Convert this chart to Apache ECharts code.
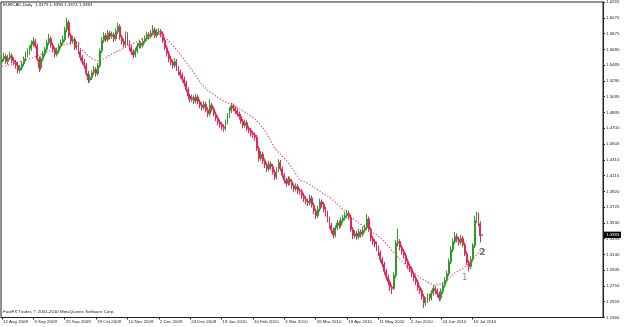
<!DOCTYPE html>
<html><head><meta charset="utf-8">
<script src="https://cdn.jsdelivr.net/npm/echarts@6/dist/echarts.min.js"></script>
<style>html,body{margin:0;padding:0;background:#fff}#c{width:625px;height:327px}</style>
</head><body><div id="c"></div>
<script>
// ---- text ----
const symbolTitle = 'EURCAD,Daily  1.3375 1.3390 1.3374 1.3383';
const footerText = 'FastFX Trader, \u00a9 2001-2010 MetaQuotes Software Corp.';
// ---- categories (trading days) ----
const startDate = [2009, 7, 12];
const holidays = ['2009-12-25', '2010-01-01'];
const slotCount = 307;
const dateLabelEvery = 16;
const lastLabelIndex = 240;
const monthNames = ['Jan','Feb','Mar','Apr','May','Jun','Jul','Aug','Sep','Oct','Nov','Dec'];
// ---- price axis labels ----
const yMin = 1.2360, yMax = 1.6265, yStep = 0.019525;
const yTickLabels = ['1.2360','1.2555','1.2750','1.2945','1.3140','1.3335','1.3530','1.3725','1.3920','1.4115','1.4310','1.4505','1.4700','1.4895','1.5095','1.5290','1.5485','1.5680','1.5875','1.6070','1.6265'];
// ---- OHLC in units of 0.0001 ----
const opens = [
15520,15560,15590,15530,15570,15600,15540,15520,15480,15420,
15450,15500,15560,15610,15640,15690,15740,15780,15720,15560,
15450,15560,15620,15680,15760,15810,15730,15680,15620,15660,
15720,15760,15800,15920,16010,15850,15780,15800,15700,15740,
15650,15580,15520,15480,15380,15300,15330,15390,15430,15380,
15480,15660,15790,15850,15800,15880,15840,15860,15810,15900,
15960,15830,15780,15740,15860,15760,15700,15650,15610,15660,
15720,15750,15730,15780,15810,15860,15840,15880,15920,15850,
15890,15900,15870,15790,15700,15630,15560,15520,15480,15530,
15440,15400,15360,15310,15260,15180,15100,15060,15080,15040,
15090,15030,14990,14960,15000,14930,14880,14990,14940,14880,
14830,14780,14750,14720,14700,14780,14860,14920,14980,14950,
14920,14880,14850,14790,14740,14770,14700,14680,14640,14620,
14590,14450,14330,14380,14300,14250,14200,14260,14230,14160,
14100,14190,14280,14200,14120,14060,14020,14070,14040,13990,
13950,13980,13930,13920,13870,13830,13800,13780,13840,13750,
13680,13620,13700,13790,13760,13700,13650,13580,13500,13440,
13380,13470,13530,13500,13560,13590,13620,13650,13600,13450,
13370,13400,13360,13420,13390,13440,13470,13580,13450,13340,
13300,13270,13220,13160,13080,13020,12930,12860,12800,12740,
12720,12880,13280,13300,13230,13180,13130,13060,13000,12960,
12900,12850,12800,12730,12690,12620,12540,12570,12620,12600,
12660,12720,12690,12650,12600,12680,12760,12820,12900,13050,
13200,13300,13360,13330,13290,13340,13260,13150,13040,12990,
13080,13250,13560,13640,13520,13375];
const closes = [
15560,15590,15530,15570,15600,15540,15520,15480,15420,15450,
15500,15560,15610,15640,15690,15740,15780,15720,15560,15450,
15560,15620,15680,15760,15810,15730,15680,15620,15660,15720,
15760,15800,15920,16010,15850,15780,15800,15700,15740,15650,
15580,15520,15480,15380,15300,15330,15390,15430,15380,15480,
15660,15790,15850,15800,15880,15840,15860,15810,15900,15960,
15830,15780,15740,15860,15760,15700,15650,15610,15660,15720,
15750,15730,15780,15810,15860,15840,15880,15920,15850,15890,
15900,15870,15790,15700,15630,15560,15520,15480,15530,15440,
15400,15360,15310,15260,15180,15100,15060,15080,15040,15090,
15030,14990,14960,15000,14930,14880,14990,14940,14880,14830,
14780,14750,14720,14700,14780,14860,14920,14980,14950,14920,
14880,14850,14790,14740,14770,14700,14680,14640,14620,14590,
14450,14330,14380,14300,14250,14200,14260,14230,14160,14100,
14190,14280,14200,14120,14060,14020,14070,14040,13990,13950,
13980,13930,13920,13870,13830,13800,13780,13840,13750,13680,
13620,13700,13790,13760,13700,13650,13580,13500,13440,13380,
13470,13530,13500,13560,13590,13620,13650,13600,13450,13370,
13400,13360,13420,13390,13440,13470,13580,13450,13340,13300,
13270,13220,13160,13080,13020,12930,12860,12800,12740,12720,
12880,13280,13300,13230,13180,13130,13060,13000,12960,12900,
12850,12800,12730,12690,12620,12540,12570,12620,12600,12660,
12720,12690,12650,12600,12680,12760,12820,12900,13050,13200,
13300,13360,13330,13290,13340,13260,13150,13040,12990,13080,
13250,13560,13640,13520,13375,13383];
const highs = [
15600,15640,15620,15610,15650,15630,15580,15550,15510,15490,
15530,15590,15650,15690,15720,15790,15830,15810,15750,15590,
15590,15660,15710,15800,15870,15840,15760,15710,15700,15750,
15800,15850,15960,16070,16040,15880,15850,15830,15780,15770,
15680,15610,15560,15510,15410,15370,15420,15470,15460,15510,
15690,15830,15890,15880,15920,15910,15900,15890,15940,16010,
15990,15860,15810,15900,15890,15790,15730,15680,15700,15760,
15790,15780,15820,15850,15900,15890,15920,15980,15950,15930,
15940,15930,15900,15820,15730,15660,15600,15550,15570,15560,
15470,15430,15390,15340,15290,15210,15130,15120,15110,15130,
15120,15060,15020,15040,15030,14960,15060,15020,14970,14910,
14860,14810,14780,14750,14810,14890,14960,15020,15010,14980,
14950,14910,14880,14820,14810,14800,14730,14710,14670,14650,
14620,14480,14420,14410,14330,14280,14300,14290,14260,14190,
14220,14320,14310,14230,14150,14090,14110,14100,14070,14020,
14020,14010,13960,13950,13900,13860,13830,13880,13870,13780,
13710,13740,13830,13820,13790,13730,13680,13610,13530,13470,
13500,13570,13560,13600,13630,13660,13690,13680,13630,13480,
13440,13430,13460,13450,13480,13510,13640,13610,13480,13370,
13330,13300,13250,13190,13110,13050,12960,12890,12830,12770,
12920,13320,13460,13330,13260,13210,13160,13090,13030,12990,
12930,12880,12830,12760,12720,12650,12610,12660,12650,12700,
12760,12750,12720,12680,12720,12800,12860,12940,13090,13240,
13340,13420,13400,13360,13380,13370,13290,13180,13070,13120,
13280,13620,13670,13660,13550,13390];
const lows = [
15490,15530,15500,15490,15550,15510,15480,15440,15380,15390,
15420,15470,15530,15580,15610,15660,15710,15690,15530,15400,
15420,15530,15590,15650,15730,15700,15640,15580,15590,15630,
15690,15730,15770,15890,15820,15740,15750,15670,15670,15620,
15540,15490,15440,15350,15260,15270,15300,15360,15340,15350,
15450,15630,15760,15770,15770,15800,15810,15770,15780,15870,
15800,15740,15700,15710,15730,15660,15610,15570,15580,15630,
15690,15690,15700,15750,15780,15800,15810,15850,15820,15820,
15860,15830,15760,15670,15590,15520,15480,15440,15450,15410,
15360,15320,15270,15220,15150,15060,15020,15030,15000,15010,
15000,14950,14920,14930,14900,14840,14850,14910,14850,14790,
14740,14710,14680,14660,14670,14750,14830,14890,14910,14880,
14850,14810,14760,14700,14710,14670,14640,14600,14580,14550,
14420,14290,14300,14260,14210,14160,14170,14190,14130,14060,
14070,14160,14170,14090,14020,13980,13990,14000,13950,13910,
13920,13890,13880,13830,13790,13760,13740,13750,13720,13640,
13580,13590,13670,13720,13660,13610,13540,13460,13400,13340,
13350,13440,13460,13470,13530,13560,13590,13570,13420,13330,
13340,13320,13330,13350,13360,13410,13440,13420,13300,13260,
13230,13180,13120,13040,12980,12890,12820,12760,12690,12650,
12700,12850,13240,13190,13140,13090,13020,12960,12920,12860,
12810,12760,12690,12650,12580,12480,12500,12540,12560,12570,
12630,12650,12610,12560,12570,12650,12730,12790,12870,13020,
13170,13270,13290,13250,13260,13230,13120,13010,12930,12960,
13050,13220,13530,13490,13290,13374];
// ---- moving average (dotted), units of 0.0001 ----
const maValues = [
15468,15472,15476,15480,
15488,15495,15503,15510,15518,15526,15533,15541,15549,15556,15564,15572,15579,
15589,15598,15608,15618,15627,15637,15647,15656,15666,
15676,15686,15696,15706,15716,15726,15736,15746,15756,15765,
15758,15745,15728,15710,15690,
15668,15646,15624,15602,15579,
15564,15550,15538,15530,
15535,15548,15563,15579,
15592,15606,15620,15635,15648,15658,15666,
15679,15692,15705,15717,15729,15741,15752,
15765,15778,15791,15804,15817,15830,15842,15853,15863,
15868,15870,15869,15866,
15856,15842,15826,
15805,15780,15755,15729,15703,
15674,15644,15612,15579,
15546,15513,15480,15447,15414,15381,
15344,15307,15270,
15245,15220,15196,15171,
15153,15136,15118,15100,15083,15065,15048,
15038,15028,15017,15007,14996,14986,
14972,14958,14944,14929,14915,14901,14887,
14870,14853,14835,14818,14801,
14769,14737,14705,14672,14640,
14594,14548,14501,14455,
14430,14405,14381,14356,14331,14306,14282,
14245,14208,14171,14133,14096,14059,
14050,14041,14031,14022,
14006,13990,13974,13958,13941,13925,13909,13893,13877,13860,13844,13828,13812,
13789,13765,13742,13719,13695,13672,13649,13625,13602,
13584,13566,13548,13530,13512,13494,13477,13459,13441,
13427,13412,13398,13384,13369,13355,
13327,13298,13270,13242,13214,13185,13157,
13131,13105,13078,13052,13026,13000,12973,12947,
12929,12911,12894,12876,12858,12841,12823,
12811,12798,12786,12773,12761,
12760,12763,12768,12776,12786,
12803,12824,12848,12873,12898,
12912,12926,12940,12954,12968,12982,12996,
13024,13052,13080,13107,13135,13163,13191,13219];
const lastPrice = 1.3383;
const noteLabels = ['1', '2'];
const noteIndex = [236, 245];
const notePrice = [1.2848, 1.3169];

// ---- build categories ----
const categories = [];
let d = new Date(Date.UTC(startDate[0], startDate[1], startDate[2]));
while (categories.length < slotCount) {
  const dow = d.getUTCDay();
  const iso = d.toISOString().slice(0, 10);
  if (dow !== 0 && dow !== 6 && holidays.indexOf(iso) < 0) {
    categories.push(d.getUTCDate() + ' ' + monthNames[d.getUTCMonth()] + ' ' + d.getUTCFullYear());
  }
  d = new Date(d.getTime() + 86400000);
}
const S = 10000;
const candleData = opens.map((o, i) => [o / S, closes[i] / S, lows[i] / S, highs[i] / S]);
const maData = maValues.map(v => v / S);
const showDate = (idx) => idx % dateLabelEvery === 0 && idx <= lastLabelIndex;

const FONT = 'Liberation Sans';
const FS = 4.4;
const UP = '#2a9d2a', DOWN = '#e8245a';
const chart = echarts.init(document.getElementById('c'), null, {renderer: 'canvas'});
chart.setOption({
  animation: false,
  backgroundColor: '#ffffff',
  title: {
    text: symbolTitle, left: 3, top: 3, padding: 0,
    textStyle: {fontSize: FS, fontWeight: 'normal', color: '#111', fontFamily: FONT}
  },
  grid: {left: 0.5, right: 22, top: 1, bottom: 9.5, show: true, borderColor: '#222', borderWidth: 1, backgroundColor: '#fff'},
  xAxis: {
    type: 'category', data: categories, boundaryGap: true,
    axisLine: {show: true, lineStyle: {color: '#222', width: 1}},
    axisTick: {show: true, alignWithLabel: true, interval: showDate, length: 2, lineStyle: {color: '#222'}},
    axisLabel: {interval: showDate, align: 'left', margin: 2, fontSize: FS, color: '#222', fontFamily: FONT, padding: [0, 0, 0, 1]},
    splitLine: {show: false}
  },
  yAxis: {
    type: 'value', position: 'right', scale: true,
    min: yMin, max: yMax + 0.000005, interval: yStep,
    axisLine: {show: true, lineStyle: {color: '#222'}},
    axisTick: {show: true, length: 2, lineStyle: {color: '#222'}},
    axisLabel: {
      margin: 3, fontSize: FS, color: '#222', fontFamily: FONT,
      formatter: (v) => { const k = Math.round((v - yMin) / yStep); return yTickLabels[k] || ''; }
    },
    splitLine: {show: false}
  },
  series: [{
    type: 'candlestick', data: candleData, barWidth: 1.4, large: false,
    itemStyle: {color: UP, color0: DOWN, borderColor: UP, borderColor0: DOWN, borderWidth: 1}
  }, {
    type: 'line', data: maData, showSymbol: false, symbol: 'none', silent: true,
    lineStyle: {color: '#ee4d77', width: 1.2, type: [1.3, 1.8]},
    markPoint: {
      symbol: 'circle', symbolSize: 0,
      data: noteLabels.map((t, i) => ({
        coord: [noteIndex[i], notePrice[i]],
        label: {show: true, position: 'inside', formatter: t, fontSize: i === 0 ? 8 : 9.5,
          fontWeight: i === 0 ? 'normal' : 'bold',
          color: i === 0 ? '#5a8cc0' : '#5a7690', fontFamily: 'DejaVu Sans'}
      }))
    }
  }]
});
// current price box on the price scale, positioned through the axis scale
const py = chart.convertToPixel({yAxisIndex: 0}, lastPrice);
const gridRight = 625 - 22;
chart.setOption({
  graphic: [{
    type: 'text', left: 3, top: 310,
    style: {text: footerText, fontSize: FS, fill: '#222', fontFamily: FONT}
  }, {
    type: 'group', x: gridRight + 1, y: py, z: 100,
    children: [
      {type: 'rect', shape: {x: 0, y: -3.2, width: 17, height: 6.4}, style: {fill: '#000'}},
      {type: 'text', x: 2, y: 0, style: {text: lastPrice.toFixed(4), fill: '#fff', fontSize: FS, fontFamily: FONT, verticalAlign: 'middle', align: 'left'}}
    ]
  }]
});
</script></body></html>
